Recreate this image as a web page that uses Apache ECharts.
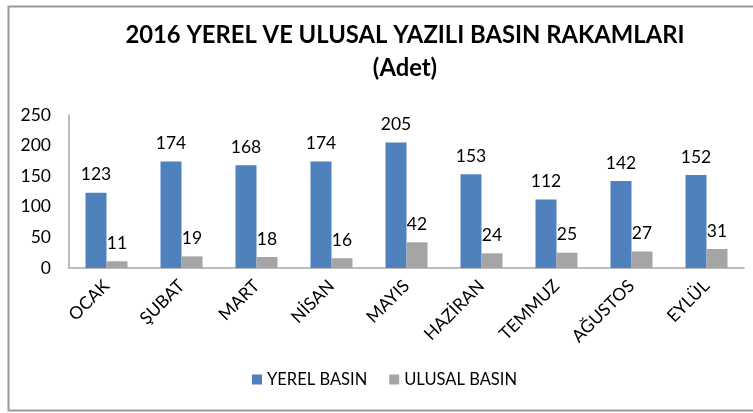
<!DOCTYPE html>
<html><head><meta charset="utf-8">
<script src="https://cdn.jsdelivr.net/npm/echarts@6/dist/echarts.min.js"></script>
<style>html,body{margin:0;padding:0;background:#fff}#c{width:753px;height:413px}</style>
</head><body><div id="c"></div>
<script>
const categories = ['OCAK','ŞUBAT','MART','NİSAN','MAYIS','HAZİRAN','TEMMUZ','AĞUSTOS','EYLÜL'];
const yerelBasin = [123,174,168,174,205,153,112,142,152];
const ulusalBasin = [11,19,18,16,42,24,25,27,31];
const yTicks = [0,50,100,150,200,250];

const FONT = 'Lato, "Open Sans", sans-serif';
const chart = echarts.init(document.getElementById('c'));
const lbl = {show:true, position:'top', color:'#000', fontSize:17.5, fontFamily:FONT, distance:9};
chart.setOption({
  animation:false,
  graphic:[{type:'rect', shape:{x:8.5,y:6.5,width:760,height:404}, style:{fill:'none', stroke:'#9a9a9a', lineWidth:2}, silent:true}],
  title:{text:'2016 YEREL VE ULUSAL YAZILI BASIN RAKAMLARI\n(Adet)', left:400, textAlign:'center', top:14,
    textStyle:{fontFamily:FONT, fontWeight:'bold', fontSize:23.8, color:'#000', lineHeight:33}},
  legend:{bottom:20, left:247, itemWidth:10, itemHeight:10, itemGap:22, icon:'rect',
    textStyle:{fontFamily:FONT, fontSize:16.5, color:'#000'}},
  grid:{left:69, right:9, top:115, bottom:145, containLabel:false},
  xAxis:{type:'category', data:categories,
    axisLine:{lineStyle:{color:'#a6a6a6', width:1.5}}, axisTick:{show:false},
    axisLabel:{rotate:45, fontFamily:FONT, fontSize:17.5, color:'#000', margin:15, interval:0}},
  yAxis:{type:'value', min:yTicks[0], max:yTicks[yTicks.length-1], interval:50,
    splitLine:{show:false},
    axisLine:{show:true, lineStyle:{color:'#a6a6a6', width:1.5}}, axisTick:{show:false},
    axisLabel:{fontFamily:FONT, fontSize:17.5, color:'#000', margin:18}},
  series:[
    {name:'YEREL BASIN', type:'bar', data:yerelBasin, barWidth:21, barGap:'0%',
     itemStyle:{color:'#4f81bd'}, label:lbl},
    {name:'ULUSAL BASIN', type:'bar', data:ulusalBasin, barWidth:21, barGap:'0%',
     itemStyle:{color:'#a5a5a5'}, label:lbl}
  ]
});
</script></body></html>
